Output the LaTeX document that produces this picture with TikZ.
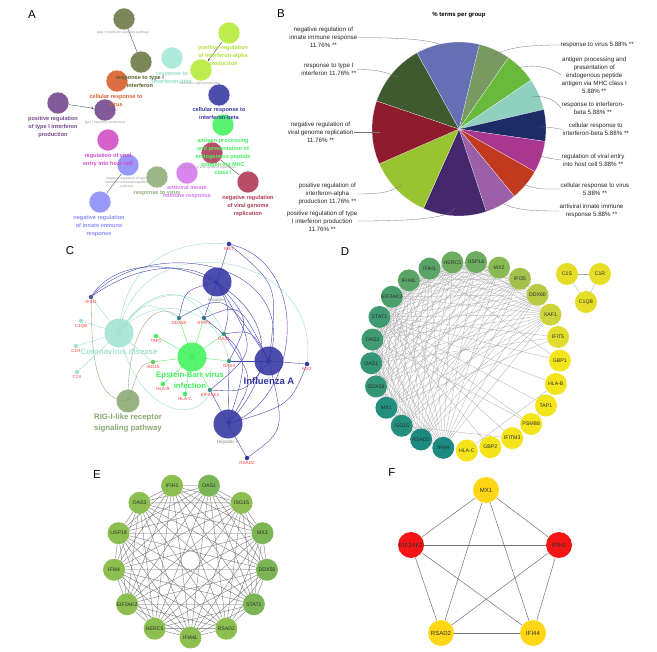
\documentclass[tikz,border=0pt]{standalone}
\usepackage{fontspec}
\setmainfont{Liberation Sans}
\usetikzlibrary{positioning, arrows.meta, calc, backgrounds}
% panel A
\definecolor{cOliveA}{HTML}{6B7B47}
\definecolor{cOliveT}{HTML}{55622E}
\definecolor{cTealA}{HTML}{A6E8D8}
\definecolor{cTealT}{HTML}{96DCCB}
\definecolor{cLimeA}{HTML}{B6EA3A}
\definecolor{cLimeT}{HTML}{AEE03C}
\definecolor{cOrangeA}{HTML}{D9602E}
\definecolor{cNavyA}{HTML}{393BA2}
\definecolor{cPurpleA}{HTML}{734A8D}
\definecolor{cGreenA}{HTML}{46F262}
\definecolor{cMagentaA}{HTML}{D24EC4}
\definecolor{cBlueA}{HTML}{8E8EFA}
\definecolor{cSageA}{HTML}{93AF7B}
\definecolor{cRedA}{HTML}{B03B58}
\definecolor{cVioletA}{HTML}{D679F0}
% panel B
\definecolor{cpGreyGreen}{HTML}{799A62}
\definecolor{cpLime}{HTML}{69B93D}
\definecolor{cpTeal}{HTML}{8FD0BF}
\definecolor{cpNavy}{HTML}{1D2C66}
\definecolor{cpMagenta}{HTML}{A9378F}
\definecolor{cpOrange}{HTML}{C1391F}
\definecolor{cpMauve}{HTML}{9B5FA7}
\definecolor{cpPurple}{HTML}{45286B}
\definecolor{cpYellowGreen}{HTML}{99C431}
\definecolor{cpRed}{HTML}{8E1B2E}
\definecolor{cpOlive}{HTML}{3F5A2F}
\definecolor{cpSlate}{HTML}{646FB4}
% panel C
\definecolor{cHubBlue}{HTML}{3535A3}
\definecolor{cEbvGreen}{HTML}{42F25C}
\definecolor{cCoronaTeal}{HTML}{A3E3D3}
\definecolor{cRigSage}{HTML}{8BA871}
\definecolor{cGeneRed}{HTML}{FF3D3D}
\definecolor{cEdgeBlue}{HTML}{4646B6}
\definecolor{cEdgeTeal}{HTML}{9EDFCF}
\definecolor{cEdgeGreen}{HTML}{5CF06E}
\definecolor{cEdgeSage}{HTML}{97AD86}
% panel D
\definecolor{dT1}{HTML}{1C8A80}
\definecolor{dT2}{HTML}{23907D}
\definecolor{dG1}{HTML}{339676}
\definecolor{dG2}{HTML}{409A72}
\definecolor{dG3}{HTML}{4C9E6D}
\definecolor{dG4}{HTML}{5AA468}
\definecolor{dG5}{HTML}{6EAC60}
\definecolor{dL1}{HTML}{8ABA56}
\definecolor{dL2}{HTML}{A2C24C}
\definecolor{dL3}{HTML}{B8CA44}
\definecolor{dY1}{HTML}{CCD43A}
\definecolor{dY2}{HTML}{E2DC2C}
\definecolor{dY}{HTML}{F4E41C}
\definecolor{dYc}{HTML}{E6DE26}
% panels E, F
\definecolor{eGreen}{HTML}{8CBE50}
\definecolor{eGreenDk}{HTML}{7CB556}
\definecolor{fYellow}{HTML}{FFD717}
\definecolor{fRed}{HTML}{F41616}
\tikzset{
  panel/.style={font=\fontsize{11.5}{13}\selectfont, inner sep=0pt},
  goterm/.style={
    circle, minimum size=22pt, inner sep=0pt,
    fill=#1, fill opacity=0.9, draw=white, line width=0.4pt
  },
  golbl/.style={
    font=\fontsize{5.6}{8}\selectfont\bfseries,
    text=#1, align=center, inner sep=0pt
  },
  gotiny/.style={
    font=\fontsize{3.4}{4}\selectfont,
    text=black!40, align=center, inner sep=0pt
  },
  golink/.style={line width=0.35pt, black!75},
  slice/.style={fill=#1, draw=white, line width=0.15pt},
  pielbl/.style={
    font=\fontsize{6.2}{8}\selectfont,
    align=center, inner sep=0.5pt, text=black!85
  },
  leader/.style={line width=0.3pt, black!55},
  hub/.style={circle, minimum size=29pt, inner sep=0pt, fill=#1, fill opacity=0.88},
  hublbl/.style={
    font=\fontsize{7.8}{11}\selectfont\bfseries,
    text=#1, align=center, inner sep=0pt
  },
  hubname/.style={font=\fontsize{4.6}{5}\selectfont, text=black!45, inner sep=0pt},
  gdot/.style={circle, minimum size=4.5pt, inner sep=0pt, fill=#1},
  glbl/.style={font=\fontsize{4.5}{5}\selectfont, text=cGeneRed, inner sep=0.3pt},
  kegg/.style={
    line width=0.4pt, draw=#1,
    -{Stealth[length=3pt, width=2.4pt]}
  },
  ppi/.style={
    circle, minimum size=22pt, inner sep=0pt, fill=#1,
    font=\fontsize{5.2}{6}\selectfont, text=black!82
  },
  ppilink/.style={line width=0.3pt, draw=black!32},
  hublink/.style={line width=0.35pt, draw=black!55}
}

\begin{document}
\begin{tikzpicture}[x=1pt, y=-1pt, label distance=0.8pt]

\begin{scope}[on background layer]
  \fill[white] (0,0) rectangle (657,652);
\end{scope}
\useasboundingbox (0,0) rectangle (657,652);

%% ── Panel A: GO term network ─────────────────────────────────────
\node[panel] (lblA) at (32,15) {A};

% term circles
\node[goterm=cOliveA] (sigpath) at (124,19) {};
\node[goterm=cOliveA] (respT1) at (141,62) {};
\node[goterm=cTealA] (respBeta) at (172,58) {};
\node[goterm=cLimeA] (posIFNa) at (229,33) {};
\node[goterm=cLimeA] (prodIFNa) at (201,70) {};
\node[goterm=cOrangeA] (cellVirus) at (117,81) {};
\node[goterm=cNavyA] (cellBeta) at (219,95) {};
\node[goterm=cPurpleA] (posT1) at (58,103) {};
\node[goterm=cPurpleA] (prodT1) at (105,110) {};
\node[goterm=cGreenA] (antigen) at (223,125) {};
\node[goterm=cMagentaA] (regEntry) at (108,140) {};
\node[goterm=cBlueA] (negT1sig) at (128,165) {};
\node[goterm=cBlueA] (negInnate) at (100,202) {};
\node[goterm=cSageA] (respVirus) at (157,177) {};
\node[goterm=cRedA] (regVGR) at (212,153) {};
\node[goterm=cVioletA] (antiviral) at (187,173) {};
\node[goterm=cRedA] (negVGR) at (248,182) {};

% links
\draw[golink] (sigpath) -- (respT1);
\draw[golink, -{Stealth[length=2.5pt, width=2pt]}] (posIFNa) -- (prodIFNa);
\draw[golink, -{Stealth[length=2.5pt, width=2pt]}] (posT1) -- (prodT1);
\draw[golink] (negT1sig) -- (negInnate);
\draw[golink] (negVGR) -- (regVGR);

% grey term names
\node[gotiny] (sigpathtxt) at (123,33) {type I interferon signaling pathway};
\node[gotiny] (prodIFNatxt) at (200,84) {interferon-alpha production};
\node[gotiny] (prodT1txt) at (105,123) {type I interferon production};
\node[gotiny] (negT1sigtxt) at (127,183) {negative regulation of type I\\interferon-mediated signaling\\pathway};
\node[gotiny] (regVGRtxt) at (208,168) {regulation of viral genome replication};

% group labels
\node[golbl=cOliveT] (respT1txt) at (140,82) {response to type I\\interferon};
\node[golbl=cTealT] (respBetatxt) at (172,77.5) {response to\\interferon-beta};
\node[golbl=cLimeT] (posIFNatxt) at (223,56.5) {positive regulation\\of interferon-alpha\\production};
\node[golbl=cOrangeA] (cellVirustxt) at (116,100.5) {cellular response to\\virus};
\node[golbl=cNavyA] (cellBetatxt) at (219,114) {cellular response to\\interferon-beta};
\node[golbl=cPurpleA] (posT1txt) at (53,127) {positive regulation\\of type I interferon\\production};
\node[golbl=cGreenA] (antigentxt) at (223,157) {antigen processing\\and presentation of\\endogenous peptide\\antigen via MHC\\class I};
\node[golbl=cMagentaA] (regEntrytxt) at (108,160) {regulation of viral\\entry into host cell};
\node[golbl=cBlueA] (negInnatetxt) at (99,226) {negative regulation\\of innate immune\\response};
\node[golbl=cSageA] (respVirustxt) at (157,193) {response to virus};
\node[golbl=cVioletA] (antiviraltxt) at (187,192) {antiviral innate\\immune response};
\node[golbl=cRedA] (negVGRtxt) at (248,206) {negative regulation\\of viral genome\\replication};

%% ── Panel B: % terms per group ───────────────────────────────────
\node[panel] (lblB) at (281,14) {B};
\node[font=\fontsize{6}{7}\selectfont\bfseries] (pietitle) at (459,15) {\% terms per group};
\coordinate (pie) at (459,129);

\foreach \a/\b/\col in {-76.5/-55.32/cpGreyGreen, -55.32/-34.15/cpLime,
    -34.15/-12.97/cpTeal, -12.97/8.21/cpNavy, 8.21/29.38/cpMagenta,
    29.38/50.56/cpOrange, 50.56/71.74/cpMauve, 71.74/114.09/cpPurple,
    114.09/156.44/cpYellowGreen, 156.44/198.79/cpRed,
    198.79/241.15/cpOlive, 241.15/283.5/cpSlate}
  \fill[slice=\col] (pie) -- ++(\a:87) arc[start angle=\a, end angle=\b, radius=87] -- cycle;

% left labels
\node[pielbl, anchor=east] (bNegInnate) at (358,37.7) {negative regulation of\\innate immune response\\11.76\% **};
\node[pielbl, anchor=east] (bRespT1) at (357,69.5) {response to type I\\interferon 11.76\% **};
\node[pielbl, anchor=east] (bNegVGR) at (354,132) {negative regulation of\\viral genome replication\\11.76\% **};
\node[pielbl, anchor=east] (bPosIFNa) at (357,194) {positive regulation of\\interferon-alpha\\production 11.76\% **};
\node[pielbl, anchor=east] (bPosT1) at (358,221) {positive regulation of type\\I interferon production\\11.76\% **};

% right labels
\node[pielbl, anchor=west] (bRespVirus) at (560,45) {response to virus 5.88\% **};
\node[pielbl, anchor=west] (bAntigen) at (561,75) {antigen processing and\\presentation of\\endogenous peptide\\antigen via MHC class I\\5.88\% **};
\node[pielbl, anchor=west] (bRespBeta) at (561,108) {response to interferon-\\beta 5.88\% **};
\node[pielbl, anchor=west] (bCellBeta) at (562,129.5) {cellular response to\\interferon-beta 5.88\% **};
\node[pielbl, anchor=west] (bRegEntry) at (561,160) {regulation of viral entry\\into host cell 5.88\% **};
\node[pielbl, anchor=west] (bCellVirus) at (560,189) {cellular response to virus\\5.88\% **};
\node[pielbl, anchor=west] (bAntiviral) at (559,211) {antiviral innate immune\\response 5.88\% **};

% slice anchors
\coordinate (sNegInnate) at (450,50);
\coordinate (sRespT1) at (398,77);
\coordinate (sNegVGR) at (380,132);
\coordinate (sPosIFNa) at (402,185);
\coordinate (sPosT1) at (455,208);
\coordinate (sRespVirus) at (492,57);
\coordinate (sAntigen) at (515,69);
\coordinate (sRespBeta) at (532,97);
\coordinate (sCellBeta) at (538,127);
\coordinate (sRegEntry) at (534,155);
\coordinate (sCellVirus) at (520,182);
\coordinate (sAntiviral) at (497,200);

% leader lines
\draw[leader] (bNegInnate.east) .. controls +(60,0) and +(-10,-9) .. (sNegInnate);
\draw[leader] (bRespT1.east) .. controls +(22,0) and +(-14,-5) .. (sRespT1);
\draw[leader] (bNegVGR.east) -- (sNegVGR);
\draw[leader] (bPosIFNa.east) .. controls +(28,0) and +(-10,6) .. (sPosIFNa);
\draw[leader] (bPosT1.east) .. controls +(65,0) and +(-4,9) .. (sPosT1);
\draw[leader] (sRespVirus) .. controls +(12,-9) and +(-35,0) .. (bRespVirus.west);
\draw[leader] (sAntigen) .. controls +(15,-6) and +(-10,-8) .. (bAntigen.west);
\draw[leader] (sRespBeta) .. controls +(14,-2) and +(-6,-8) .. (bRespBeta.west);
\draw[leader] (sCellBeta) .. controls +(12,0) and +(-10,-2) .. (bCellBeta.west);
\draw[leader] (sRegEntry) .. controls +(12,2) and +(-10,-1) .. (bRegEntry.west);
\draw[leader] (sCellVirus) .. controls +(14,8) and +(-18,0) .. (bCellVirus.west);
\draw[leader] (sAntiviral) .. controls +(14,10) and +(-30,0) .. (bAntiviral.west);

%% ── Panel C: pathway – gene network ──────────────────────────────
\node[panel] (lblC) at (70,251) {C};

% pathway hubs
\node[hub=cHubBlue] (measles) at (217,282) {};
\node[hub=cHubBlue] (influenza) at (269,361) {};
\node[hub=cHubBlue] (hepc) at (228,424) {};
\node[hub=cEbvGreen] (ebv) at (192,357) {};
\node[hub=cCoronaTeal] (corona) at (119,333) {};
\node[hub=cRigSage, minimum size=23pt] (rigi) at (128,401) {};

\node[hubname, below=1.5pt of measles] (measlestxt) {Measles};
\node[hubname, below=1.5pt of hepc] (hepctxt) {Hepatitis C};
\node[hublbl=cHubBlue, font=\fontsize{9.5}{11}\selectfont\bfseries, below=2pt of influenza] (influenzatxt) {Influenza A};
\node[hublbl=cEbvGreen, below=0pt of ebv, xshift=-2pt] (ebvtxt) {Epstein-Barr virus\\infection};
\node[hublbl=cCoronaTeal, below=1pt of corona] (coronatxt) {Coronavirus disease};
\node[hublbl=cRigSage, below=0.5pt of rigi] (rigitxt) {RIG-I-like receptor\\signaling pathway};

% genes
\node[gdot=cHubBlue!70!cRigSage, label={[glbl]below:IFIH1}] (cIFIH1) at (91,297) {};
\node[gdot=cCoronaTeal, label={[glbl]below:C1QB}] (cC1QB) at (81,321) {};
\node[gdot=cCoronaTeal, label={[glbl]below:C1R}] (cC1R) at (76,346) {};
\node[gdot=cCoronaTeal, label={[glbl]below:C1S}] (cC1S) at (77,372) {};
\node[gdot=cHubBlue!60!cEbvGreen, label={[glbl]below:DDX58}] (cDDX58) at (179,318) {};
\node[gdot=cHubBlue!70!cEbvGreen, label={[glbl]below:STAT1}] (cSTAT1) at (204,318) {};
\node[gdot=cEbvGreen, label={[glbl]below:TAP1}] (cTAP1) at (156,336) {};
\node[gdot=cHubBlue!50!cEbvGreen, label={[glbl]below:OAS1}] (cOAS1) at (224,334) {};
\node[gdot=cRigSage!60!cEbvGreen, label={[glbl]below:ISG15}] (cISG15) at (153,362) {};
\node[gdot=cHubBlue!50!cEbvGreen, label={[glbl]below:OAS3}] (cOAS3) at (229,361) {};
\node[gdot=cEbvGreen, label={[glbl]below:HLA-B}] (cHLAB) at (163,384) {};
\node[gdot=cEbvGreen, label={[glbl]below:HLA-C}] (cHLAC) at (185,394) {};
\node[gdot=cHubBlue!50!cEbvGreen, label={[glbl]below:EIF2AK2}] (cEIF2AK2) at (210,390) {};
\node[gdot=cHubBlue, label={[glbl]below:MX2}] (cMX2) at (307,364) {};
\node[gdot=cHubBlue, label={[glbl]below:RSAD2}] (cRSAD2) at (247,458) {};
\node[gdot=cHubBlue, label={[glbl]below:MX1}] (cMX1) at (229,244) {};

\begin{scope}[on background layer]
  % Epstein-Barr virus infection
  \foreach \g in {cDDX58, cSTAT1, cTAP1, cOAS1, cISG15, cOAS3, cHLAB, cHLAC, cEIF2AK2}
    \draw[kegg=cEdgeGreen] (\g) -- (ebv.center);
  % Coronavirus disease
  \foreach \g in {cIFIH1, cC1QB, cC1R, cC1S, cISG15}
    \draw[kegg=cEdgeTeal] (\g) -- (corona.center);
  \draw[kegg=cEdgeTeal] (cDDX58) .. controls (145,300) .. (corona.center);
  \draw[kegg=cEdgeTeal] (cSTAT1) .. controls (190,288) and (150,282) .. (corona.center);
  \draw[kegg=cEdgeTeal] (cOAS1) .. controls (200,282) and (150,284) .. (corona.center);
  \draw[kegg=cEdgeTeal] (cOAS3) .. controls (215,300) and (150,295) .. (corona.center);
  \draw[kegg=cEdgeTeal] (cMX1) .. controls (185,240) and (125,255) .. (corona.center);
  \draw[kegg=cEdgeTeal] (cMX2) .. controls (320,250) and (140,222) .. (corona.center);
  \draw[kegg=cEdgeTeal] (cEIF2AK2) .. controls (200,422) and (140,420) .. (corona.center);
  % RIG-I-like receptor signaling pathway
  \draw[kegg=cEdgeSage] (cIFIH1) .. controls (92,345) and (92,400) .. (rigi.center);
  \draw[kegg=cEdgeSage] (cDDX58) .. controls (160,300) and (128,320) .. (rigi.center);
  \draw[kegg=cEdgeSage] (cISG15) .. controls (140,365) .. (rigi.center);
  % Measles
  \draw[kegg=cEdgeBlue] (cIFIH1) .. controls (140,262) and (190,262) .. (measles.center);
  \draw[kegg=cEdgeBlue] (cDDX58) .. controls (185,290) .. (measles.center);
  \draw[kegg=cEdgeBlue] (cSTAT1) -- (measles.center);
  \draw[kegg=cEdgeBlue] (cOAS1) .. controls (230,310) .. (measles.center);
  \draw[kegg=cEdgeBlue] (cMX1) -- (measles.center);
  \draw[kegg=cEdgeBlue] (cOAS3) .. controls (250,320) .. (measles.center);
  \draw[kegg=cEdgeBlue] (cEIF2AK2) .. controls (258,350) .. (measles.center);
  % Influenza A
  \draw[kegg=cEdgeBlue] (cIFIH1) .. controls (150,235) and (300,260) .. (influenza.center);
  \draw[kegg=cEdgeBlue] (cMX1) .. controls (278,285) .. (influenza.center);
  \draw[kegg=cEdgeBlue] (cDDX58) .. controls (225,293) .. (influenza.center);
  \draw[kegg=cEdgeBlue] (cSTAT1) .. controls (240,303) .. (influenza.center);
  \draw[kegg=cEdgeBlue] (cOAS1) .. controls (252,330) .. (influenza.center);
  \draw[kegg=cEdgeBlue] (cOAS3) -- (influenza.center);
  \draw[kegg=cEdgeBlue] (cEIF2AK2) .. controls (245,392) .. (influenza.center);
  \draw[kegg=cEdgeBlue] (cMX2) -- (influenza.center);
  \draw[kegg=cEdgeBlue] (cRSAD2) .. controls (285,430) .. (influenza.center);
  % Hepatitis C
  \draw[kegg=cEdgeBlue] (cIFIH1) .. controls (140,222) and (340,300) .. (hepc.center);
  \draw[kegg=cEdgeBlue] (cMX1) .. controls (312,265) and (300,400) .. (hepc.center);
  \draw[kegg=cEdgeBlue] (cMX2) .. controls (290,405) .. (hepc.center);
  \draw[kegg=cEdgeBlue] (cSTAT1) .. controls (250,355) .. (hepc.center);
  \draw[kegg=cEdgeBlue] (cOAS1) .. controls (255,380) .. (hepc.center);
  \draw[kegg=cEdgeBlue] (cOAS3) -- (hepc.center);
  \draw[kegg=cEdgeBlue] (cEIF2AK2) -- (hepc.center);
  \draw[kegg=cEdgeBlue] (cRSAD2) -- (hepc.center);
\end{scope}

%% ── Panel D: PPI network ─────────────────────────────────────────
\node[panel] (lblD) at (345,252) {D};

\begin{scope}[shift={(465.5,356)}]
  \foreach \i/\g/\col in {0/USP18/dG5, 1/MX2/dL1, 2/IFI35/dL2, 3/DDX60/dL3,
      4/XAF1/dY1, 5/IFIT5/dY2, 6/GBP1/dY, 7/HLA-B/dY, 8/TAP1/dY,
      9/PSMB8/dY, 10/IFITM3/dY, 11/GBP2/dY, 12/HLA-C/dY, 13/IFI44/dT1,
      14/RSAD2/dT1, 15/ISG15/dT2, 16/MX1/dT2, 17/DDX58/dG1, 18/OAS1/dG1,
      19/OAS3/dG2, 20/STAT1/dG2, 21/EIF2AK2/dG3, 22/IFI44L/dG4,
      23/IFIH1/dG4, 24/HERC5/dG5}
    \node[ppi=\col] (d\i) at ({-83.6+14.4*\i}:94.5) {\g};
\end{scope}

% complement cluster
\node[ppi=dYc] (dC1S) at (567,274) {C1S};
\node[ppi=dYc] (dC1R) at (600,274) {C1R};
\node[ppi=dYc] (dC1QB) at (586,302) {C1QB};

\begin{scope}[on background layer]
  \foreach \i in {0,13,14,...,24}
    \foreach \j in {0,13,14,...,24}
      {\ifnum\i<\j \draw[ppilink] (d\i) -- (d\j); \fi}
  \foreach \i in {1,2,3,4}
    \foreach \j in {0,13,14,...,24}
      \draw[ppilink] (d\i) -- (d\j);
  \foreach \i/\j in {5/20, 5/18, 5/16, 6/20, 6/23, 7/20, 7/8, 8/20, 8/9,
      9/20, 9/19, 10/15, 10/20, 11/20, 12/7, 1/2, 2/3, 3/4}
    \draw[ppilink] (d\i) -- (d\j);
  \draw[ppilink] (dC1S) -- (dC1R);
  \draw[ppilink] (dC1S) -- (dC1QB);
  \draw[ppilink] (dC1R) -- (dC1QB);
\end{scope}

%% ── Panel E: hub genes ───────────────────────────────────────────
\node[panel] (lblE) at (97,475) {E};

\begin{scope}[shift={(190.5,560.5)}]
  \foreach \k/\g/\col in {0/IFI44L/eGreen, 1/RSAD2/eGreen, 2/STAT1/eGreenDk,
      3/DDX58/eGreenDk, 4/MX1/eGreenDk, 5/ISG15/eGreen, 6/OAS1/eGreenDk,
      7/IFIH1/eGreen, 8/OAS3/eGreen, 9/USP18/eGreen, 10/IFI44/eGreen,
      11/EIF2AK2/eGreen, 12/HERC5/eGreen}
    \node[ppi=\col] (e\k) at ({90-27.69*\k}:77) {\g};
\end{scope}

\begin{scope}[on background layer]
  \foreach \i in {0,...,12}
    \foreach \j in {0,...,12}
      {\ifnum\i<\j \draw[hublink] (e\i) -- (e\j); \fi}
\end{scope}

%% ── Panel F: core genes ──────────────────────────────────────────
\node[panel] (lblF) at (392,473) {F};

\node[ppi=fYellow, minimum size=26pt, font=\fontsize{6}{7}\selectfont] (fMX1) at (486,490) {MX1};
\node[ppi=fRed, minimum size=26pt, font=\fontsize{6}{7}\selectfont] (fIFIH1) at (559,545) {IFIH1};
\node[ppi=fYellow, minimum size=26pt, font=\fontsize{6}{7}\selectfont] (fIFI44) at (533,633) {IFI44};
\node[ppi=fYellow, minimum size=26pt, font=\fontsize{6}{7}\selectfont] (fRSAD2) at (441,633) {RSAD2};
\node[ppi=fRed, minimum size=26pt, font=\fontsize{6}{7}\selectfont] (fEIF2AK2) at (411,545) {EIF2AK2};

\begin{scope}[on background layer]
  \foreach \a/\b in {fMX1/fIFIH1, fMX1/fIFI44, fMX1/fRSAD2, fMX1/fEIF2AK2,
      fIFIH1/fIFI44, fIFIH1/fRSAD2, fIFIH1/fEIF2AK2,
      fIFI44/fRSAD2, fIFI44/fEIF2AK2, fRSAD2/fEIF2AK2}
    \draw[hublink, line width=0.5pt] (\a) -- (\b);
\end{scope}

\end{tikzpicture}
\end{document}
